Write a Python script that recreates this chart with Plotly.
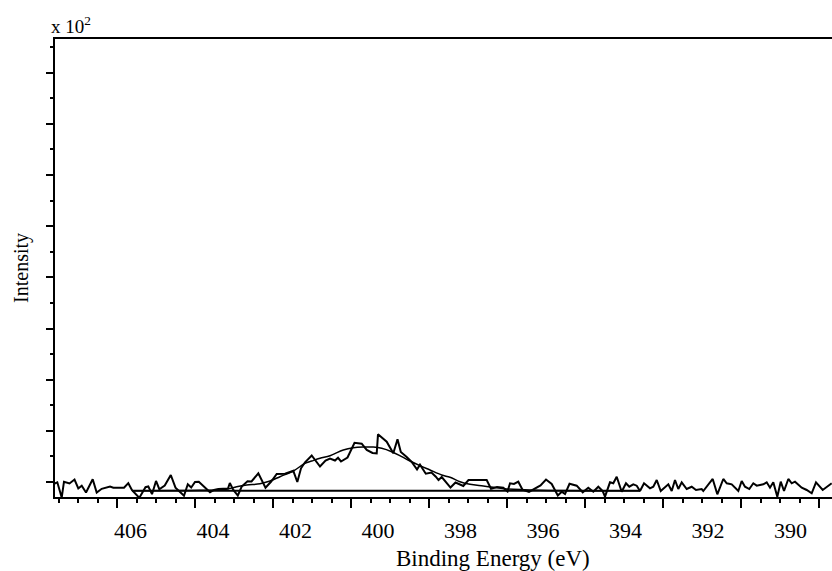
import plotly.graph_objects as go

# Raw N 1s spectrum (binding energy in eV, intensity in counts)
energy = [407.869, 407.772, 407.665, 407.610, 407.476, 407.355, 407.263, 407.180, 407.076, 406.914,
          406.817, 406.696, 406.494, 406.414, 406.155, 406.051, 405.961, 405.784, 405.634, 405.566,
          405.476, 405.379, 405.299, 405.168, 405.021, 404.907, 404.701, 404.609, 404.526, 404.434,
          404.342, 404.216, 404.070, 403.973, 403.869, 403.634, 403.590, 403.505, 403.396, 403.302,
          403.161, 403.064, 402.899, 402.725, 402.587, 402.453, 402.252, 402.051, 401.954, 401.864,
          401.767, 401.605, 401.404, 401.270, 401.161, 401.040, 400.967, 400.895, 400.737, 400.567,
          400.393, 400.271, 400.131, 400.029, 399.998, 399.787, 399.627, 399.525, 399.445, 399.302,
          399.181, 399.052, 398.980, 398.839, 398.701, 398.596, 398.531, 398.453, 398.240, 398.119,
          397.930, 397.804, 397.363, 397.258, 397.113, 396.960, 396.858, 396.798, 396.701, 396.597,
          396.495, 396.337, 396.180, 396.058, 395.925, 395.787, 395.639, 395.544, 395.464, 395.355,
          395.181, 395.035, 394.900, 394.778, 394.657, 394.551, 394.495, 394.374, 394.294, 394.211,
          394.090, 393.986, 393.906, 393.809, 393.726, 393.646, 393.549, 393.404, 393.324, 393.241,
          393.144, 393.040, 392.960, 392.878, 392.798, 392.718, 392.635, 392.514, 392.393, 392.289,
          392.151, 392.112, 391.990, 391.884, 391.772, 391.627, 391.544, 391.423, 391.263, 391.181,
          391.101, 390.997, 390.900, 390.817, 390.657, 390.575, 390.495, 390.415, 390.318, 390.235,
          390.155, 390.051, 389.969, 389.889, 389.726, 389.605, 389.484, 389.380, 389.217, 388.999]
intensity = [295.5, 299.4, 269.7, 300.6, 297.1, 304.9, 287.3, 292.6, 279.5, 305.5,
             279.5, 286.7, 291.2, 288.7, 288.7, 297.7, 284.0, 269.1, 289.8, 291.2,
             276.2, 302.0, 285.9, 293.2, 313.7, 288.9, 273.2, 295.7, 289.2, 300.0,
             300.4, 291.6, 280.1, 284.4, 286.3, 287.3, 298.0, 284.4, 273.6, 291.2,
             301.4, 301.0, 317.0, 288.9, 301.0, 315.6, 316.2, 321.9, 300.0, 326.8,
             338.5, 351.8, 330.3, 342.0, 345.9, 342.0, 347.3, 340.1, 347.9, 376.6,
             374.9, 362.6, 356.7, 356.1, 393.2, 378.8, 356.1, 383.7, 358.6, 348.9,
             339.1, 324.4, 333.8, 316.2, 318.6, 310.4, 303.9, 309.8, 289.2, 299.0,
             292.2, 303.9, 303.9, 286.9, 290.2, 288.9, 281.4, 297.5, 296.1, 300.6,
             284.9, 280.5, 288.3, 293.2, 304.9, 296.1, 273.6, 281.0, 276.5, 296.5,
             292.8, 279.9, 288.9, 281.0, 290.8, 282.4, 271.3, 299.4, 297.5, 310.4,
             281.0, 297.5, 290.8, 295.5, 292.8, 282.4, 297.5, 287.7, 290.8, 303.9,
             282.4, 290.8, 295.5, 282.4, 303.9, 286.3, 299.4, 286.3, 290.8, 284.4,
             286.3, 282.4, 294.1, 305.9, 276.0, 305.9, 297.5, 295.5, 282.4, 302.0,
             290.8, 286.3, 297.5, 292.8, 295.5, 299.4, 288.9, 299.4, 271.3, 300.6,
             282.4, 305.9, 297.5, 300.6, 288.9, 284.4, 277.9, 299.4, 284.4, 297.5]

# Fitted envelope
fit_energy = [405.961, 404.313, 403.707, 403.423, 403.181, 402.858, 402.616, 402.374, 402.051, 401.767,
              401.605, 401.404, 401.161, 400.839, 400.596, 400.354, 400.112, 399.908, 399.666, 399.423,
              399.222, 398.980, 398.737, 398.453, 398.252, 398.010, 397.767, 397.445, 397.203, 396.878,
              396.071, 394.616, 393.646]
fit_intensity = [283.0, 283.8, 285.3, 290.8, 294.1, 296.7, 302.0, 310.4, 321.5, 336.6,
                 341.0, 346.3, 351.4, 362.6, 367.0, 368.4, 368.4, 365.9, 359.2, 349.5,
                 341.0, 331.9, 323.5, 313.7, 309.2, 300.6, 295.5, 292.2, 289.7, 286.3,
                 283.8, 283.0, 283.0]

# Background
bg_energy = [405.961, 393.646]
bg_intensity = [283.0, 283.0]

tick_vals = [406, 404, 402, 400, 398, 396, 394, 392, 390]
tick_text = ["406", "404", "402", "400", "398", "396", "394", "392", "390"]

FONT = "Liberation Serif, Times New Roman, serif"

fig = go.Figure()
fig.add_trace(go.Scatter(x=bg_energy, y=bg_intensity, mode="lines",
                         line=dict(color="black", width=2), hoverinfo="skip", showlegend=False))
fig.add_trace(go.Scatter(x=fit_energy, y=fit_intensity, mode="lines", line_shape="spline",
                         line=dict(color="black", width=1.5), showlegend=False))
fig.add_trace(go.Scatter(x=energy, y=intensity, mode="lines",
                         line=dict(color="black", width=2), showlegend=False))
# helper trace so the tick-mark axis is created
fig.add_trace(go.Scatter(x=[None], y=[None], xaxis="x2", yaxis="y", mode="lines",
                         showlegend=False, hoverinfo="skip"))

fig.update_layout(
    width=832, height=571,
    margin=dict(l=55, r=0, t=39, b=74),
    paper_bgcolor="white", plot_bgcolor="white",
    font=dict(family=FONT, color="black"),
    xaxis=dict(range=[407.828, 388.992], showgrid=False, zeroline=False,
               showline=True, linecolor="black", linewidth=2, mirror=True,
               ticks="", tickmode="array", tickvals=tick_vals, ticktext=tick_text,
               tickfont=dict(family=FONT, size=22, color="black"),
               ticklabelstandoff=13),
    xaxis2=dict(range=[407.597, 387.674], overlaying="x", anchor="y", side="bottom",
                showgrid=False, zeroline=False, showline=False, showticklabels=False,
                ticks="outside", ticklen=10, tickwidth=2, tickcolor="black",
                tick0=406, dtick=2,
                minor=dict(ticks="outside", ticklen=5, tickwidth=2, tickcolor="black",
                           dtick=0.5, showgrid=False)),
    yaxis=dict(range=[270.7, 1165.9], showgrid=False, zeroline=False,
               showline=True, linecolor="black", linewidth=2,
               ticks="outside", ticklen=7, tickwidth=2, tickcolor="black",
               tick0=0, dtick=100, showticklabels=False,
               minor=dict(ticks="outside", ticklen=3, tickwidth=2, tickcolor="black",
                          dtick=50, showgrid=False)),
    annotations=[
        dict(text="x 10<sup>2</sup>", xref="paper", yref="paper", x=-0.0075, y=1.03,
             xanchor="left", yanchor="middle", showarrow=False,
             font=dict(family=FONT, size=19, color="black")),
        dict(text="Intensity", xref="paper", yref="paper", x=-0.0438, y=0.5,
             xanchor="center", yanchor="middle", textangle=-90, showarrow=False,
             font=dict(family=FONT, size=20, color="black")),
        dict(text="Binding Energy (eV)", xref="paper", yref="paper", x=0.5637, y=-0.1332,
             xanchor="center", yanchor="middle", showarrow=False,
             font=dict(family=FONT, size=23, color="black")),
    ],
)

fig.write_html("out.html", config={"displayModeBar": False},
               post_script="document.body.style.margin='0px';")
